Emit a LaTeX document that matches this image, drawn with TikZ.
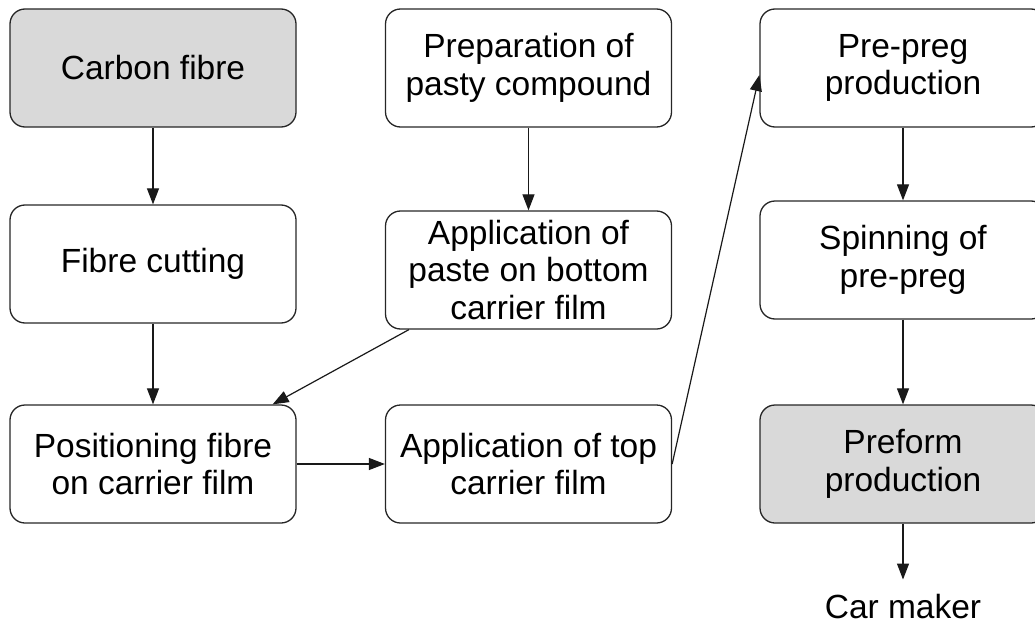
\documentclass[tikz,border=0pt]{standalone}
\usepackage{fontspec}
\setmainfont{Liberation Sans}
\usetikzlibrary{arrows.meta,calc}
\begin{document}
\begin{tikzpicture}[x=1pt,y=-1pt,
  box/.style={draw=black!85,line width=1.3pt,rounded corners=15pt,minimum width=286pt,minimum height=118pt,inner sep=0pt,align=center,font=\fontsize{33.5}{37.5}\selectfont},
  grey/.style={fill=black!15},
  arr/.style={draw=black!90,line width=1.2pt,-{Triangle[length=16pt,width=12pt]}}]
\clip (0,0) rectangle (1035,623);
\node[box,grey] (cf) at (153,68) {Carbon fibre};
\node[box] (prep) at (528.5,68) {Preparation of\\pasty compound};
\node[box] (pp) at (903,68) {Pre-preg\\production};
\node[box] (fc) at (153,264) {Fibre cutting};
\node[box] (paste) at (528.5,270) {Application of\\paste on bottom\\carrier film};
\node[box] (spin) at (903,260) {Spinning of\\pre-preg};
\node[box] (pos) at (153,464) {Positioning fibre\\on carrier film};
\node[box] (top) at (528.5,464) {Application of top\\carrier film};
\node[box,grey] (pre) at (903,464) {Preform\\production};
\node[inner sep=0pt,anchor=base,font=\fontsize{33.5}{37.5}\selectfont] (car) at (903,618) {Car maker};
\draw[arr] (cf.south) -- (fc.north);
\draw[arr] (fc.south) -- (pos.north);
\draw[arr] (prep.south) -- (paste.north);
\draw[arr] ($(paste.south west)+(24,0)$) -- ($(pos.north east)+(-24,0)$);
\draw[arr] (pos.east) -- (top.west);
\draw[arr] (top.east) -- ($(pp.west)+(0,7)$);
\draw[arr] (pp.south) -- (spin.north);
\draw[arr] (spin.south) -- (pre.north);
\draw[arr,shorten >=14pt] (pre.south) -- (car.north);
\end{tikzpicture}
\end{document}
